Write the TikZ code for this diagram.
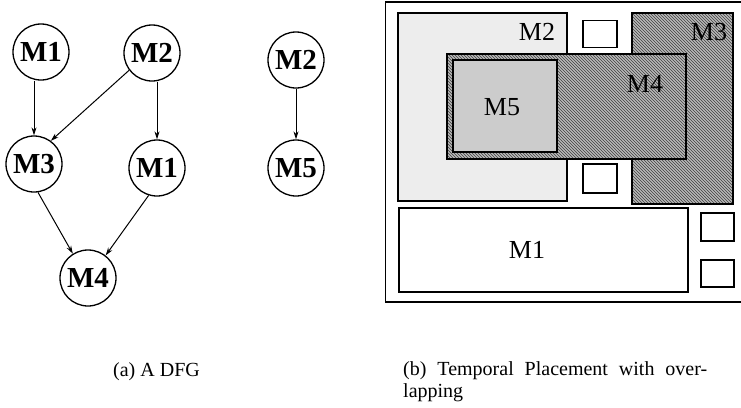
\documentclass[tikz,border=0pt]{standalone}
\usepackage{fontspec}
\setmainfont{Liberation Serif}
\usetikzlibrary{arrows.meta,patterns}
\tikzset{
  opnode/.style={circle,draw,line width=1.3pt,minimum size=56pt,inner sep=0pt,font=\fontsize{29}{29}\selectfont\bfseries},
  dep/.style={line width=1pt,-{Stealth[length=8pt,width=5pt]}},
  modbox/.style={draw,line width=1.3pt},
  slot/.style={draw,line width=1.1pt,fill=white},
  lbl/.style={font=\fontsize{26}{26}\selectfont,inner sep=0pt},
  captext/.style={font=\fontsize{20}{24}\selectfont,inner sep=0pt,anchor=base west}
}
\begin{document}
\begin{tikzpicture}[x=1pt,y=-1pt]
\useasboundingbox[fill=white] (0,0) rectangle (741,407);
% (a) DFG
\node[opnode] (a1) at (41,52) {M1};
\node[opnode] (a2) at (152,53) {M2};
\node[opnode] (a3) at (34,164) {M3};
\node[opnode] (a1b) at (157,168) {M1};
\node[opnode] (a4) at (88,278) {M4};
\node[opnode] (b2) at (296,60) {M2};
\node[opnode] (b5) at (296,168) {M5};
\draw[dep] (a3.north |- a1.south) -- (a3.north);
\draw[dep] (a2.217) -- (a3.54);
\draw[dep] (a1b.north |- a2.south) -- (a1b.north);
\draw[dep] (a3.278) -- (a4.122);
\draw[dep] (a1b.253) -- (a4.52);
\draw[dep] (b2) -- (b5);
% (b) placement
\draw[line width=1.6pt] (385.5,2) rectangle (742,302);
\draw[modbox,fill=gray!14] (398,13) rectangle (567,201);
\draw[modbox,preaction={fill=gray!55},pattern=north west lines,pattern color=black!75] (632,13) rectangle (733,204);
\draw[line width=2.6pt,preaction={fill=gray!55},pattern=north west lines,pattern color=black!75] (447,54) rectangle (686,159);
\draw[modbox,fill=gray!40] (453,60) rectangle (557,152);
\draw[modbox,fill=white] (399,208) rectangle (688,292);
\node[slot,minimum width=34pt,minimum height=27pt] (s1) at (600,34) {};
\node[slot,minimum width=34pt,minimum height=29pt] (s2) at (600,178.5) {};
\node[slot,minimum width=33pt,minimum height=28pt] (s3) at (717.5,227) {};
\node[slot,minimum width=33pt,minimum height=27pt] (s4) at (717.5,273.5) {};
\node[lbl] (l2) at (537,32) {M2};
\node[lbl] (l3) at (709,32) {M3};
\node[lbl] (l4) at (645,84) {M4};
\node[lbl] (l5) at (502,107) {M5};
\node[lbl] (l1) at (527,250) {M1};
% captions
\node[captext] (ca) at (113,376) {(a) A DFG};
\node[captext,anchor=north west] (cb) at (403,361) {\parbox[t]{304pt}{\fontsize{20}{22}\selectfont (b) Temporal Placement with over-\linebreak lapping}};
\end{tikzpicture}
\end{document}
